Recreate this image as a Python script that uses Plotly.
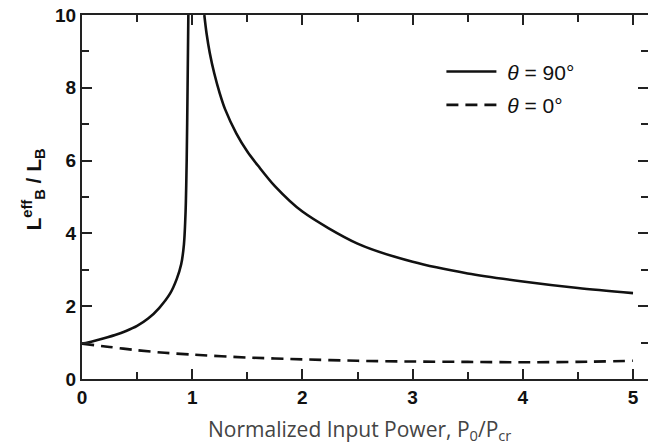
import plotly.graph_objects as go

# theta = 90 deg, left branch (below critical power)
x90_left = [0, 0.1, 0.2, 0.3, 0.4, 0.5, 0.6, 0.7, 0.8, 0.86, 0.9, 0.925, 0.94, 0.95, 0.958, 0.965]
y90_left = [0.97, 1.04, 1.12, 1.21, 1.32, 1.46, 1.66, 1.95, 2.35, 2.75, 3.15, 3.7, 4.6, 6.0, 8.0, 10.0]
# theta = 90 deg, right branch (above critical power)
x90_right = [1.11, 1.13, 1.16, 1.2, 1.25, 1.3, 1.4, 1.5, 1.6, 1.75, 2.0, 2.5, 3.0, 3.5, 4.0, 4.5, 5.0]
y90_right = [10.0, 9.5, 8.95, 8.4, 7.85, 7.4, 6.75, 6.25, 5.85, 5.3, 4.6, 3.72, 3.22, 2.9, 2.68, 2.5, 2.36]
# theta = 0 deg
x0 = [0, 0.25, 0.5, 0.75, 1.0, 1.5, 2.0, 2.5, 3.0, 3.5, 4.0, 4.5, 5.0]
y0 = [0.97, 0.88, 0.79, 0.72, 0.67, 0.59, 0.54, 0.5, 0.48, 0.47, 0.46, 0.47, 0.5]

x_ticks = [0, 1, 2, 3, 4, 5]
y_ticks = [0, 2, 4, 6, 8, 10]

fig = go.Figure()
fig.add_trace(go.Scatter(x=x90_left, y=y90_left, mode="lines",
                         name="\u00a0<i>θ</i> = 90°", legendgroup="a",
                         line=dict(color="#111", width=2.6, shape="spline", smoothing=0.8)))
fig.add_trace(go.Scatter(x=x90_right, y=y90_right, mode="lines", showlegend=False,
                         legendgroup="a",
                         line=dict(color="#111", width=2.6, shape="spline", smoothing=0.8)))
fig.add_trace(go.Scatter(x=x0, y=y0, mode="lines", name="\u00a0<i>θ</i> = 0°",
                         line=dict(color="#111", width=2.6, dash="12px,7px",
                                   shape="spline", smoothing=0.8)))

axis_common = dict(showline=True, linecolor="#222", linewidth=2, mirror="ticks",
                   ticks="inside", tickcolor="#222", tickwidth=1.6, showgrid=False,
                   zeroline=False, automargin=False, ticklabeloverflow="allow")

fig.update_xaxes(range=[0, 5.136], tickvals=x_ticks, ticklen=10,
                 minor=dict(dtick=0.5, ticklen=7, ticks="inside", tickcolor="#222", tickwidth=1.6),
                 tickfont=dict(family="Liberation Sans", size=19, color="#111", weight="bold"),
                 **axis_common)
fig.update_yaxes(range=[0, 10], tickvals=y_ticks, ticklen=10,
                 minor=dict(dtick=1, ticklen=7, ticks="inside", tickcolor="#222", tickwidth=1.6),
                 tickfont=dict(family="Liberation Sans", size=19, color="#111", weight="bold"),
                 **axis_common)

fig.add_annotation(text="Normalized Input Power, P<sub>0</sub>/P<sub>cr</sub>",
                   xref="paper", yref="paper", x=0.49, y=-0.14, yanchor="middle",
                   showarrow=False, font=dict(family="Open Sans", size=21, color="#444"))
fig.add_annotation(text="L<sup>eff</sup><sub>B</sub> / L<sub>B</sub>",
                   xref="paper", yref="paper", x=-0.085, y=0.52, xanchor="center",
                   textangle=-90, showarrow=False,
                   font=dict(family="Liberation Sans", size=21, color="#111", weight="bold"))

fig.update_layout(
    width=648, height=446,
    margin=dict(l=82, r=0, t=15, b=67),
    plot_bgcolor="white", paper_bgcolor="white",
    legend=dict(x=0.635, y=0.9, xanchor="left", yanchor="top",
                font=dict(family="Liberation Sans", size=21, color="#111"),
                bgcolor="rgba(0,0,0,0)", itemwidth=50, tracegroupgap=3),
)

# remove the default page margin so the figure fills the window exactly
fig.write_html("out.html", config={"displayModeBar": False},
               post_script="document.body.style.margin='0';")
